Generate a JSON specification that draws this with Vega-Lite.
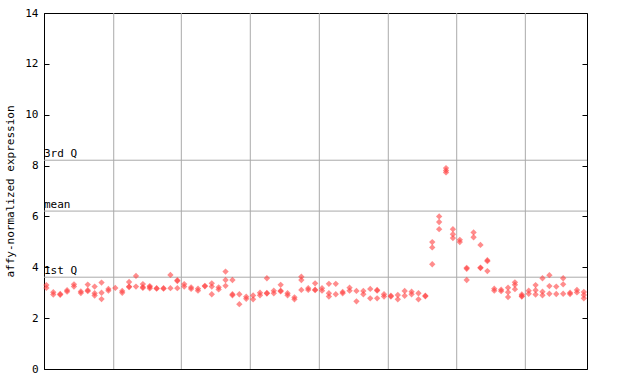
{
  "$schema": "https://vega.github.io/schema/vega-lite/v6.json",
  "autosize": "none",
  "width": 543,
  "height": 356,
  "padding": {"left": 44, "top": 13, "right": 53, "bottom": 15},
  "background": "white",
  "config": {
    "view": {"stroke": "black", "strokeWidth": 1},
    "font": "DejaVu Sans Mono"
  },
  "datasets": {
    "points": [
      {"s":1,"v":3.30},{"s":1,"v":3.19},
      {"s":2,"v":3.02},{"s":2,"v":2.93},
      {"s":3,"v":2.95},{"s":3,"v":2.92},
      {"s":4,"v":3.10},{"s":4,"v":3.04},
      {"s":5,"v":3.33},{"s":5,"v":3.24},
      {"s":6,"v":3.05},{"s":6,"v":2.99},
      {"s":7,"v":3.32},{"s":7,"v":3.10},{"s":7,"v":3.06},
      {"s":8,"v":3.24},{"s":8,"v":2.98},{"s":8,"v":2.89},
      {"s":9,"v":3.40},{"s":9,"v":3.00},{"s":9,"v":2.75},
      {"s":10,"v":3.15},{"s":10,"v":3.08},
      {"s":11,"v":3.19},
      {"s":12,"v":3.07},{"s":12,"v":3.00},
      {"s":13,"v":3.42},{"s":13,"v":3.24},{"s":13,"v":3.22},
      {"s":14,"v":3.66},{"s":14,"v":3.24},
      {"s":15,"v":3.34},{"s":15,"v":3.22},{"s":15,"v":3.19},
      {"s":16,"v":3.26},{"s":16,"v":3.22},{"s":16,"v":3.17},
      {"s":17,"v":3.18},{"s":17,"v":3.16},
      {"s":18,"v":3.18},{"s":18,"v":3.16},
      {"s":19,"v":3.70},{"s":19,"v":3.18},
      {"s":20,"v":3.49},{"s":20,"v":3.46},{"s":20,"v":3.18},
      {"s":21,"v":3.34},{"s":21,"v":3.24},
      {"s":22,"v":3.21},{"s":22,"v":3.15},
      {"s":23,"v":3.16},{"s":23,"v":3.08},
      {"s":24,"v":3.27},{"s":24,"v":3.25},
      {"s":25,"v":3.37},{"s":25,"v":3.24},{"s":25,"v":2.94},
      {"s":26,"v":3.21},{"s":26,"v":3.13},
      {"s":27,"v":3.83},{"s":27,"v":3.50},{"s":27,"v":3.27},
      {"s":28,"v":3.50},{"s":28,"v":2.94},{"s":28,"v":2.90},
      {"s":29,"v":2.94},{"s":29,"v":2.55},
      {"s":30,"v":2.84},{"s":30,"v":2.76},
      {"s":31,"v":2.89},{"s":31,"v":2.74},
      {"s":32,"v":3.00},{"s":32,"v":2.90},
      {"s":33,"v":3.57},{"s":33,"v":2.99},{"s":33,"v":2.97},
      {"s":34,"v":3.08},{"s":34,"v":2.98},
      {"s":35,"v":3.31},{"s":35,"v":3.08},{"s":35,"v":3.05},
      {"s":36,"v":2.98},{"s":36,"v":2.90},
      {"s":37,"v":2.82},{"s":37,"v":2.74},
      {"s":38,"v":3.63},{"s":38,"v":3.50},{"s":38,"v":3.11},
      {"s":39,"v":3.18},{"s":39,"v":3.11},
      {"s":40,"v":3.37},{"s":40,"v":3.12},{"s":40,"v":3.10},
      {"s":41,"v":3.18},{"s":41,"v":3.08},
      {"s":42,"v":3.35},{"s":42,"v":2.98},{"s":42,"v":2.85},
      {"s":43,"v":3.35},{"s":43,"v":2.94},
      {"s":44,"v":3.03},{"s":44,"v":2.98},
      {"s":45,"v":3.20},{"s":45,"v":3.08},
      {"s":46,"v":3.07},{"s":46,"v":2.66},
      {"s":47,"v":3.07},{"s":47,"v":2.94},
      {"s":48,"v":3.15},{"s":48,"v":2.78},
      {"s":49,"v":3.11},{"s":49,"v":3.08},{"s":49,"v":2.78},
      {"s":50,"v":2.94},{"s":50,"v":2.85},
      {"s":51,"v":2.88},{"s":51,"v":2.85},
      {"s":52,"v":2.91},{"s":52,"v":2.74},
      {"s":53,"v":3.07},{"s":53,"v":2.88},
      {"s":54,"v":3.04},{"s":54,"v":2.94},
      {"s":55,"v":2.98},{"s":55,"v":2.74},
      {"s":56,"v":2.88},{"s":56,"v":2.86},
      {"s":57,"v":4.99},{"s":57,"v":4.78},{"s":57,"v":4.12},
      {"s":58,"v":6.00},{"s":58,"v":5.78},{"s":58,"v":5.50},
      {"s":59,"v":7.90},{"s":59,"v":7.81},{"s":59,"v":7.73},
      {"s":60,"v":5.50},{"s":60,"v":5.30},{"s":60,"v":5.15},
      {"s":61,"v":5.08},{"s":61,"v":4.99},
      {"s":62,"v":3.98},{"s":62,"v":3.94},{"s":62,"v":3.50},
      {"s":63,"v":5.37},{"s":63,"v":5.18},
      {"s":64,"v":4.88},{"s":64,"v":3.99},{"s":64,"v":3.97},
      {"s":65,"v":4.28},{"s":65,"v":4.24},{"s":65,"v":3.85},
      {"s":66,"v":3.16},{"s":66,"v":3.08},
      {"s":67,"v":3.12},{"s":67,"v":3.06},
      {"s":68,"v":3.20},{"s":68,"v":3.02},{"s":68,"v":2.83},
      {"s":69,"v":3.41},{"s":69,"v":3.31},{"s":69,"v":3.14},
      {"s":70,"v":2.93},{"s":70,"v":2.87},{"s":70,"v":2.85},
      {"s":71,"v":3.08},{"s":71,"v":2.96},
      {"s":72,"v":3.30},{"s":72,"v":3.10},{"s":72,"v":2.93},
      {"s":73,"v":3.57},{"s":73,"v":3.04},{"s":73,"v":2.90},
      {"s":74,"v":3.69},{"s":74,"v":3.26},{"s":74,"v":2.96},
      {"s":75,"v":3.24},{"s":75,"v":2.95},
      {"s":76,"v":3.57},{"s":76,"v":3.33},{"s":76,"v":2.96},
      {"s":77,"v":3.00},{"s":77,"v":2.95},
      {"s":78,"v":3.11},{"s":78,"v":3.01},
      {"s":79,"v":3.03},{"s":79,"v":2.91},{"s":79,"v":2.78}
    ],
    "groups": [{"b":10.77},{"b":20.58},{"b":30.59},{"b":40.61},{"b":50.62},{"b":60.55},{"b":70.51}],
    "stats": [{"label":"1st Q","v":3.61},{"label":"mean","v":6.21},{"label":"3rd Q","v":8.21}]
  },
  "resolve": {"axis": {"y": "independent"}},
  "layer": [
    {
      "data": {"name": "groups"},
      "mark": {"type": "rule", "color": "#aaaaaa", "strokeWidth": 1},
      "encoding": {
        "x": {"field": "b", "type": "quantitative", "scale": {"domain": [0.65, 79.46], "nice": false, "zero": false}, "axis": null}
      }
    },
    {
      "data": {"name": "stats"},
      "mark": {"type": "rule", "color": "#aaaaaa", "strokeWidth": 1},
      "encoding": {
        "y": {"field": "v", "type": "quantitative", "scale": {"domain": [0, 14], "nice": false}, "axis": {"orient": "left", "offset": -5, "values": [0,2,4,6,8,10,12,14], "labels": false, "title": null, "grid": false, "domain": false, "tickColor": "black", "tickSize": 5}}
      }
    },
    {
      "data": {"name": "stats"},
      "mark": {"type": "text", "align": "left", "baseline": "bottom", "fontSize": 11, "font": "DejaVu Sans Mono", "color": "black", "dy": -1},
      "encoding": {
        "x": {"datum": 0.65, "type": "quantitative"},
        "y": {"field": "v", "type": "quantitative", "axis": null},
        "text": {"field": "label"}
      }
    },
    {
      "data": {"name": "points"},
      "mark": {"type": "point", "shape": "diamond", "filled": true, "size": 40, "color": "#ff4040", "opacity": 0.6},
      "encoding": {
        "x": {"field": "s", "type": "quantitative"},
        "y": {"field": "v", "type": "quantitative", "axis": {"orient": "left", "title": "affy-normalized expression", "values": [0,2,4,6,8,10,12,14], "grid": false, "domainColor": "black", "ticks": false, "labelPadding": 6, "labelFont": "DejaVu Sans Mono", "labelFontSize": 11, "labelColor": "black", "titleFont": "DejaVu Sans Mono", "titleFontSize": 11, "titleFontWeight": "normal", "titleColor": "black", "titlePadding": 9}}
      }
    },
    {
      "data": {"name": "stats"},
      "mark": {"type": "rule", "opacity": 0},
      "encoding": {
        "y": {"field": "v", "type": "quantitative", "axis": {"orient": "right", "offset": -5, "values": [0,2,4,6,8,10,12,14], "labels": false, "title": null, "grid": false, "domain": false, "tickColor": "black", "tickSize": 5}}
      }
    }
  ]
}
